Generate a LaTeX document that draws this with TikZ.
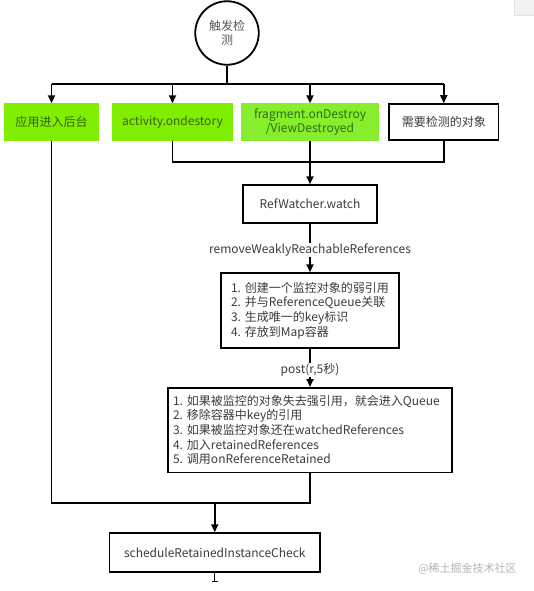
\documentclass[tikz,border=0pt]{standalone}
\usepackage{fontspec}
\setmainfont{Noto Sans CJK SC}
\usetikzlibrary{arrows.meta}
\definecolor{gfill}{HTML}{80EE00}
\definecolor{gfillb}{HTML}{86EE2C}
\definecolor{gtext}{HTML}{36620E}
\definecolor{gtextb}{HTML}{2C6E10}
\definecolor{txt}{HTML}{3C3C3C}
\definecolor{wm}{HTML}{B4B4B4}
\hyphenpenalty=10000
\begin{document}
\begin{tikzpicture}[x=1pt,y=-1pt,
  conn/.style={line width=1.8pt, black},
  arr/.style={conn, -{Triangle[length=8pt,width=7pt]}},
  greenbox/.style={fill=gfill, text=gtext, minimum height=37pt, inner sep=0pt, align=center},
  whitebox/.style={draw=black, line width=1.5pt, fill=white, text=txt, inner sep=0pt},
  lbl/.style={fill=white, text=txt, inner sep=1pt},
  zhfont/.style={font=\fontsize{12}{14}\selectfont},
  enfont/.style={font=\fontsize{12}{14.3}\selectfont},
  mixfont/.style={font=\fontsize{12}{14.6}\selectfont}
]
\useasboundingbox (0,0) rectangle (533,591);
\fill[white] (0,0) rectangle (533,591);
\draw[fill=gray!10, draw=gray!22] (514,-1) rectangle (534,15);

\node[circle, draw=black, line width=1.8pt, minimum size=63.5pt, inner sep=0pt, text=txt!85, align=center, zhfont] (trig) at (227,33) {触发检\\测};

\node[greenbox, zhfont, minimum width=95pt] (b1) at (51.5,122) {应用进入后台};
\node[greenbox, enfont, minimum width=121pt] (b2) at (172.5,122) {activity.ondestory};
\node[greenbox, enfont, fill=gfillb, text=gtextb, minimum width=138pt] (b3) at (310,122) {fragment.onDestroy\\/ViewDestroyed};
\node[whitebox, zhfont, minimum width=109.5pt, minimum height=36pt] (b4) at (443.75,122) {需要检测的对象};

\node[whitebox, enfont, minimum width=134pt, minimum height=38pt] (rw) at (310,204) {RefWatcher.watch};
\node[whitebox, mixfont, text width=158pt, inner xsep=10pt, minimum height=75pt, align=left] (ba) at (310,310.5) {1.~创建一个监控对象的弱引用\\2.~并与ReferenceQueue关联\\3.~生成唯一的key标识\\4.~存放到Map容器};
\node[whitebox, mixfont, text width=274pt, inner xsep=5pt, minimum height=84.5pt, align=left] (bb) at (310,430) {1.~如果被监控的对象失去强引用，就会进入Queue\\2.~移除容器中key的引用\\3.~如果被监控对象还在watchedReferences\\4.~加入retainedReferences\\5.~调用onReferenceRetained};
\node[whitebox, enfont, minimum width=210.5pt, minimum height=39pt] (bc) at (214.75,552.5) {scheduleRetainedInstanceCheck};

\coordinate (j1) at (227,84.3);
\coordinate (j2) at (0,162.3);
\coordinate (j3) at (0,502.7);
\coordinate (endp) at (0,582);

\draw[conn] (trig.south) -- (j1);
\draw[conn] (b1 |- j1) -- (b4 |- j1);
\foreach \n in {b1,b2,b3,b4} \draw[arr] (\n |- j1) -- (\n.north);

\draw[conn] (b2.south) -- (b2 |- j2) -- (b4 |- j2) -- (b4.south);
\draw[arr] (b3.south) -- (rw.north);
\draw[arr] (rw.south) -- (ba.north);
\node[lbl, enfont] (l1) at (310,250) {removeWeaklyReachableReferences};
\draw[arr] (ba.south) -- (bb.north);
\node[lbl, enfont] (l2) at (310,370) {post(r,5秒)};

\draw[conn] (b1.south) -- (b1 |- j3) -- (bb |- j3) -- (bb.south);
\draw[arr] (bc |- j3) -- (bc.north);
\draw[line width=1.2pt, -{Bar[width=6pt,line width=1.2pt]}] (bc.south) -- (bc.south |- endp);

\node[text=wm, font=\fontsize{11}{13}\selectfont, inner sep=0pt] (wmk) at (467.5,569) {@稀土掘金技术社区};
\end{tikzpicture}
\end{document}
